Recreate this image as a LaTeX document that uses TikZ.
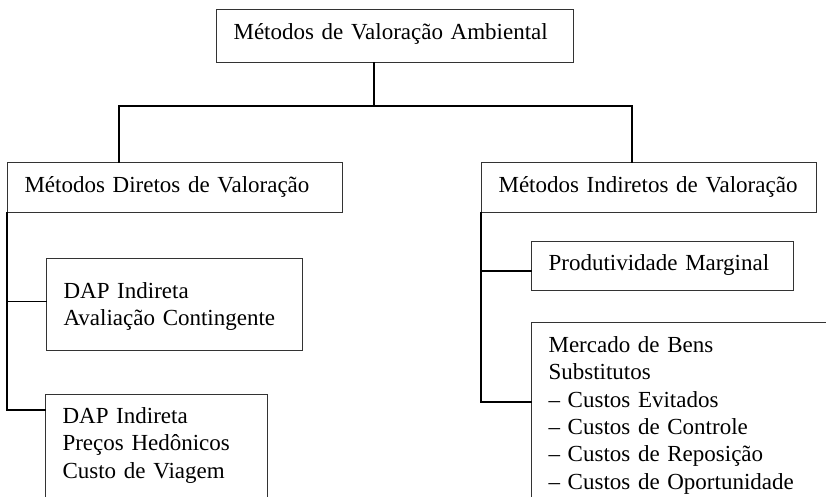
\documentclass[tikz,border=0pt]{standalone}
\usepackage{fontspec}
\setmainfont{Liberation Serif}
\usetikzlibrary{positioning}
\tikzset{
  caixa/.style={draw=black!80, line width=1.1pt, anchor=north west,
    inner xsep=17pt, inner ysep=0pt, align=left,
    font=\fontsize{23}{27.3}\selectfont},
  ligacao/.style={line width=1.8pt, line cap=rect}
}

\begin{document}
\begin{tikzpicture}[x=1pt,y=-1pt]
  \useasboundingbox (0,0) rectangle (826,496);
  \clip (0,0) rectangle (826,496);

    \node[caixa, text width=323pt, text height=30pt, text depth=23pt] (topo) at (216,9) {Métodos de Valoração Ambiental};
    \node[caixa, text width=301pt, text height=30pt, text depth=20pt] (diretos) at (7,162) {Métodos Diretos de Valoração};
    \node[caixa, text width=301pt, text height=30pt, text depth=20pt] (indiretos) at (481,162) {Métodos Indiretos de Valoração};
    \node[caixa, text width=222pt, text height=40pt, text depth=52pt] (dapcont) at (46,258) {DAP Indireta\\Avaliação Contingente};
    \node[caixa, text width=188pt, text height=29pt, text depth=110pt] (daphed) at (45,394) {DAP Indireta\\Preços Hedônicos\\Custo de Viagem};
    \node[caixa, text width=228pt, text height=29pt, text depth=20pt] (prodmarg) at (531,241) {Produtividade Marginal};
    \node[caixa, text width=366pt, text height=30pt, text depth=200pt] (mercado) at (531,322) {Mercado de Bens\\Substitutos\\– Custos Evitados\\– Custos de Controle\\– Custos de Reposição\\– Custos de Oportunidade};

    \coordinate (hub) at (374,106);
    \coordinate (jl) at (119,106);
    \coordinate (jr) at (632,106);
    \draw[ligacao] (topo.south -| hub) -- (hub);
    \draw[ligacao] (diretos.north -| jl) -- (jl) -- (jr) -- (indiretos.north -| jr);
    \draw[ligacao] (diretos.south west) |- ([yshift=3pt]dapcont.west);
    \draw[ligacao] (diretos.south west) |- ([yshift=-16pt]daphed.north west);
    \draw[ligacao] (indiretos.south west) |- ([yshift=-5pt]prodmarg.west);
    \draw[ligacao] (indiretos.south west) |- ([yshift=-80pt]mercado.north west);
\end{tikzpicture}
\end{document}
